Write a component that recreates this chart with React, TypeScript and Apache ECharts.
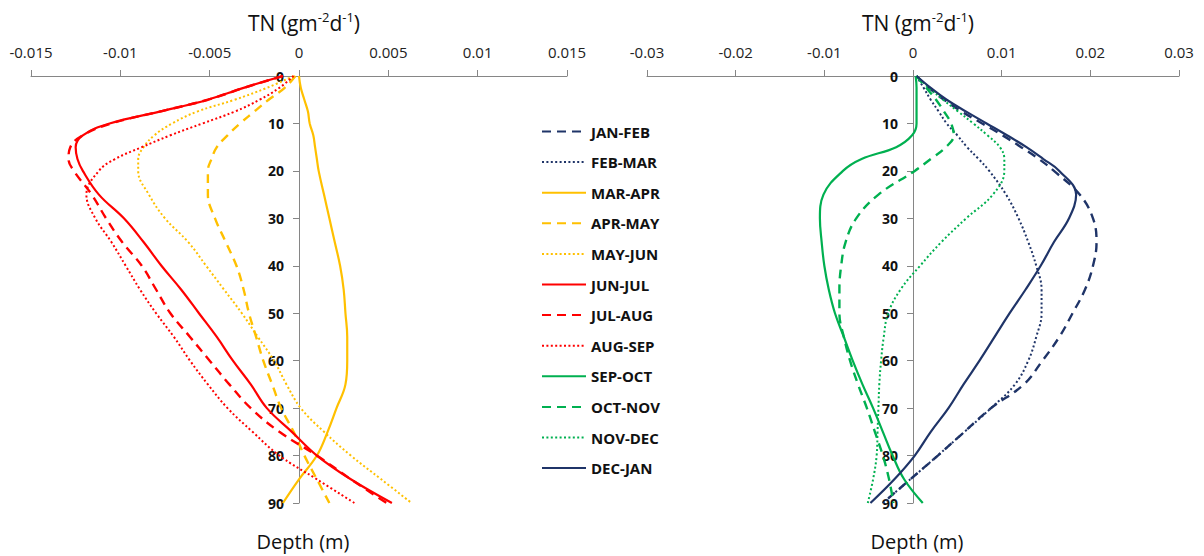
import React, { useEffect, useRef } from "react";
import * as echarts from "echarts";

// Depth grid (m)
const depths = [0, 2.5, 5, 7.5, 10, 12.5, 15, 17.5, 20, 25, 30, 35, 40, 45, 50, 55, 60, 65, 70, 75, 80, 85, 90];

// Left panel (TN flux, g m-2 d-1)
const marApr = [0, 0.0001, 0.0003, 0.0005, 0.0006, 0.0008, 0.0009, 0.001, 0.0011, 0.0014, 0.0017, 0.002, 0.0023, 0.0025, 0.0026, 0.0027, 0.0027, 0.0026, 0.0021, 0.0016, 0.001, 0, -0.0009];
const aprMay = [-0.0002, -0.0008, -0.0017, -0.0025, -0.0033, -0.004, -0.0046, -0.0049, -0.0051, -0.0051, -0.0047, -0.0041, -0.0035, -0.0031, -0.0028, -0.0024, -0.002, -0.0015, -0.001, -0.0003, 0.0003, 0.001, 0.0017];
const mayJun = [-0.0003, -0.0018, -0.0036, -0.0057, -0.0071, -0.0081, -0.0087, -0.009, -0.009, -0.0084, -0.0075, -0.0062, -0.0052, -0.0042, -0.0032, -0.0023, -0.0014, -0.0007, 0.0001, 0.0014, 0.0029, 0.0046, 0.0063];
const junJul = [-0.0009, -0.0031, -0.0051, -0.0078, -0.0106, -0.0121, -0.0125, -0.0124, -0.0121, -0.0112, -0.0098, -0.0087, -0.0077, -0.0066, -0.0056, -0.0046, -0.0037, -0.0027, -0.0018, -0.0004, 0.001, 0.0029, 0.0052];
const julAug = [-0.0009, -0.0031, -0.0051, -0.0078, -0.0105, -0.0121, -0.0128, -0.0129, -0.0126, -0.0116, -0.0108, -0.0099, -0.0088, -0.008, -0.0072, -0.0061, -0.005, -0.0039, -0.0027, -0.0011, 0.001, 0.0029, 0.0049];
const augSep = [-0.0003, -0.0011, -0.0022, -0.0036, -0.0054, -0.0072, -0.0088, -0.0103, -0.0112, -0.0119, -0.0114, -0.0105, -0.0097, -0.0089, -0.008, -0.007, -0.0061, -0.0051, -0.004, -0.0026, -0.0011, 0.001, 0.0031];

// Right panel
const janFeb = [0.0004, 0.0018, 0.0035, 0.0055, 0.0078, 0.0101, 0.0122, 0.0142, 0.0159, 0.0188, 0.0203, 0.0207, 0.0203, 0.0194, 0.018, 0.0165, 0.0146, 0.0125, 0.0088, 0.0058, 0.0028, -0.0003, -0.0034];
const febMar = [0.0004, 0.0012, 0.002, 0.0029, 0.0038, 0.005, 0.0061, 0.0074, 0.0086, 0.0105, 0.0119, 0.013, 0.0139, 0.0145, 0.0145, 0.0139, 0.013, 0.0115, 0.0088, 0.0058, 0.0028, -0.0003, -0.0034];
const sepOct = [0.0003, 0.0004, 0.0004, 0.0004, 0.0004, -0.0001, -0.0019, -0.0058, -0.0079, -0.0101, -0.0105, -0.0103, -0.01, -0.0095, -0.0088, -0.0078, -0.0068, -0.0057, -0.0045, -0.0034, -0.0023, -0.001, 0.0011];
const octNov = [0.0004, 0.0015, 0.0026, 0.0035, 0.0043, 0.0046, 0.0037, 0.002, 0.0002, -0.0039, -0.0064, -0.0076, -0.0081, -0.0083, -0.0083, -0.0078, -0.0071, -0.0062, -0.0052, -0.0043, -0.0034, -0.0027, -0.0022];
const novDec = [0.0004, 0.0018, 0.0034, 0.0051, 0.0068, 0.0084, 0.0098, 0.0103, 0.0103, 0.009, 0.006, 0.0032, 0.0008, -0.0014, -0.0028, -0.0033, -0.0036, -0.0038, -0.0039, -0.004, -0.0041, -0.0045, -0.0051];
const decJan = [0.0004, 0.002, 0.0038, 0.006, 0.0083, 0.0106, 0.0128, 0.0147, 0.0165, 0.0184, 0.0176, 0.0159, 0.0144, 0.0127, 0.0109, 0.0092, 0.0075, 0.0057, 0.004, 0.002, 0.0002, -0.0021, -0.0048];

const legendNames = ["JAN-FEB", "FEB-MAR", "MAR-APR", "APR-MAY", "MAY-JUN", "JUN-JUL", "JUL-AUG", "AUG-SEP", "SEP-OCT", "OCT-NOV", "NOV-DEC", "DEC-JAN"];

const NAVY = "#1f3468";
const ORANGE = "#ffc000";
const RED = "#ff0000";
const GREEN = "#00b050";
const AXIS = "#868686";
const FONT = "'Open Sans', 'Noto Sans', sans-serif";

type Style = "solid" | "dashed" | "dotted";

const seriesDefs: { name: string; values: number[]; color: string; style: Style; panel: number }[] = [
  { name: "JAN-FEB", values: janFeb, color: NAVY, style: "dashed", panel: 1 },
  { name: "FEB-MAR", values: febMar, color: NAVY, style: "dotted", panel: 1 },
  { name: "MAR-APR", values: marApr, color: ORANGE, style: "solid", panel: 0 },
  { name: "APR-MAY", values: aprMay, color: ORANGE, style: "dashed", panel: 0 },
  { name: "MAY-JUN", values: mayJun, color: ORANGE, style: "dotted", panel: 0 },
  { name: "JUN-JUL", values: junJul, color: RED, style: "solid", panel: 0 },
  { name: "JUL-AUG", values: julAug, color: RED, style: "dashed", panel: 0 },
  { name: "AUG-SEP", values: augSep, color: RED, style: "dotted", panel: 0 },
  { name: "SEP-OCT", values: sepOct, color: GREEN, style: "solid", panel: 1 },
  { name: "OCT-NOV", values: octNov, color: GREEN, style: "dashed", panel: 1 },
  { name: "NOV-DEC", values: novDec, color: GREEN, style: "dotted", panel: 1 },
  { name: "DEC-JAN", values: decJan, color: NAVY, style: "solid", panel: 1 },
];

function lineStyleFor(style: Style, color: string) {
  if (style === "solid") return { color, width: 2.2, type: "solid" as const };
  if (style === "dashed") return { color, width: 2.4, type: [9, 6] };
  return { color, width: 2, type: [2, 2.4] };
}

const fmt = (v: number) => (Math.abs(v) < 1e-9 ? "0" : String(parseFloat(v.toFixed(4))));

function xAxisFor(gridIndex: number, range: number, step: number) {
  return {
    type: "value",
    gridIndex,
    position: "top",
    min: -range,
    max: range,
    interval: step,
    name: "{b|TN (gm}{s|-2}{b|d}{s|-1}{b|)}",
    nameLocation: "middle",
    nameGap: 40,
    nameTextStyle: {
      padding: [0, 0, 0, 10],
      rich: {
        b: { fontFamily: FONT, fontSize: 21, color: "#111", lineHeight: 26 },
        s: { fontFamily: FONT, fontSize: 13, color: "#111", verticalAlign: "top", lineHeight: 14 },
      },
    },
    axisLine: { show: true, onZero: false, lineStyle: { color: AXIS, width: 1 } },
    axisTick: { show: true, length: 6, lineStyle: { color: AXIS } },
    axisLabel: { fontFamily: FONT, fontSize: 15, color: "#222", margin: 17, formatter: fmt },
    splitLine: { show: false },
  };
}

function yAxisFor(gridIndex: number, offset: number) {
  return {
    type: "value",
    gridIndex,
    inverse: true,
    position: "left",
    offset,
    min: 0,
    max: 90,
    interval: 10,
    name: "Depth (m)",
    nameLocation: "end",
    nameGap: 38,
    nameTextStyle: { fontFamily: FONT, fontSize: 20, color: "#111", align: "center", verticalAlign: "middle", padding: [0, 0, 0, 8] },
    axisLine: { show: true, onZero: false, lineStyle: { color: AXIS, width: 1 } },
    axisTick: { show: true, length: 6, lineStyle: { color: AXIS } },
    axisLabel: { fontFamily: FONT, fontSize: 14, fontWeight: "bold", color: "#111", margin: 15 },
    splitLine: { show: false },
  };
}

export default function App() {
  const ref = useRef<HTMLDivElement>(null);
  useEffect(() => {
    document.body.style.margin = "0";
    if (!ref.current) return;
    const chart = echarts.init(ref.current, undefined, { renderer: "svg" });
    const series = seriesDefs.map((s) => ({
      name: s.name,
      type: "line",
      xAxisIndex: s.panel,
      yAxisIndex: s.panel,
      data: depths.map((d, i) => [s.values[i], d]),
      smooth: 0.4,
      symbol: "none",
      lineStyle: lineStyleFor(s.style, s.color),
      itemStyle: { color: s.color },
    }));
    chart.setOption({
      animation: false,
      backgroundColor: "#ffffff",
      grid: [
        { left: 31, top: 76, width: 536, height: 427 },
        { left: 647, top: 76, width: 532, height: 427 },
      ],
      xAxis: [xAxisFor(0, 0.015, 0.005), xAxisFor(1, 0.03, 0.01)],
      yAxis: [yAxisFor(0, -268), yAxisFor(1, -266)],
      legend: {
        data: legendNames,
        orient: "vertical",
        left: 541,
        top: 124,
        padding: 0,
        itemWidth: 44,
        itemHeight: 14,
        itemGap: 15.6,
        itemStyle: { opacity: 0 },
        textStyle: { fontFamily: FONT, fontSize: 15, fontWeight: "bold", color: "#111" },
      },
      series,
    });
    return () => chart.dispose();
  }, []);
  return <div ref={ref} style={{ width: 1204, height: 556 }} />;
}
